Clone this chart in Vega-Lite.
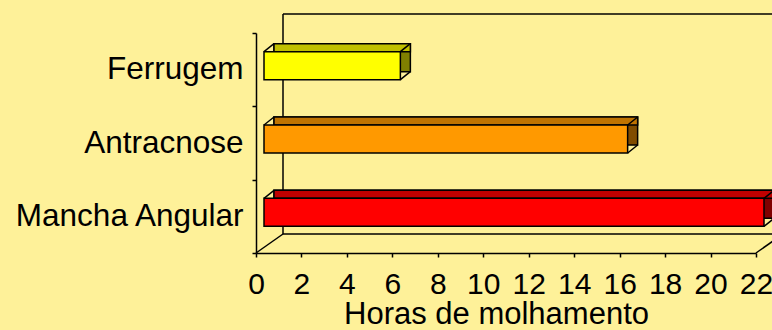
{
  "$schema": "https://vega.github.io/schema/vega-lite/v6.json",
  "autosize": "none",
  "width": 500,
  "height": 220,
  "padding": {"left": 256, "top": 33, "right": 16, "bottom": 77},
  "background": "#FEF199",
  "config": {
    "view": {"stroke": null},
    "font": "Liberation Sans",
    "axis": {"labelFont": "Liberation Sans", "titleFont": "Liberation Sans", "labelColor": "black", "titleColor": "black", "grid": false}
  },
  "data": {
    "values": [
      {"doenca": "Ferrugem", "horas": 6},
      {"doenca": "Antracnose", "horas": 16},
      {"doenca": "Mancha Angular", "horas": 22}
    ]
  },
  "encoding": {
    "y": {
      "field": "doenca", "type": "nominal",
      "sort": ["Ferrugem", "Antracnose", "Mancha Angular"],
      "scale": {"domain": ["Ferrugem", "Antracnose", "Mancha Angular"], "paddingInner": 0, "paddingOuter": 0},
      "axis": {"title": null, "tickBand": "extent", "domainColor": "black", "domainWidth": 1.5, "tickColor": "black", "tickWidth": 1.5, "tickSize": 4, "labelFontSize": 31.5, "labelPadding": 9, "labelLimit": 0}
    }
  },
  "layer": [
    {
      "data": {"values": [{}]},
      "mark": {"type": "rule", "color": "black", "strokeWidth": 1.5, "xOffset": 27, "yOffset": -19, "y2Offset": -19},
      "encoding": {
        "x": {"datum": 0, "type": "quantitative", "scale": {"domain": [0, 22], "nice": false}},
        "y": {"datum": "Ferrugem", "type": "nominal", "bandPosition": 0},
        "y2": {"datum": "Mancha Angular", "bandPosition": 1}
      }
    },
    {
      "data": {"values": [{}]},
      "mark": {"type": "rule", "color": "black", "strokeWidth": 1.5, "xOffset": 27, "x2Offset": 27, "yOffset": -19},
      "encoding": {
        "x": {"datum": 0, "type": "quantitative"},
        "x2": {"datum": 22},
        "y": {"datum": "Ferrugem", "type": "nominal", "bandPosition": 0}
      }
    },
    {
      "data": {"values": [{}]},
      "mark": {"type": "rule", "color": "black", "strokeWidth": 1.5, "xOffset": 27, "x2Offset": 27, "yOffset": -19},
      "encoding": {
        "x": {"datum": 0, "type": "quantitative"},
        "x2": {"datum": 22},
        "y": {"datum": "Mancha Angular", "type": "nominal", "bandPosition": 1}
      }
    },
    {
      "data": {"values": [{"p": 0}, {"p": 22}]},
      "mark": {"type": "rule", "color": "black", "strokeWidth": 1.5, "x2Offset": 27, "y2Offset": -19},
      "encoding": {
        "x": {"field": "p", "type": "quantitative"},
        "x2": {"field": "p"},
        "y": {"datum": "Mancha Angular", "type": "nominal", "bandPosition": 1},
        "y2": {"datum": "Mancha Angular", "bandPosition": 1}
      }
    },
    {
      "mark": {"type": "bar", "height": 28, "xOffset": 18, "x2Offset": 18, "yOffset": -12, "stroke": "black", "strokeWidth": 1.5},
      "encoding": {
        "x": {"field": "horas", "type": "quantitative"},
        "fill": {"field": "doenca", "type": "nominal", "scale": {"domain": ["Ferrugem", "Antracnose", "Mancha Angular"], "range": ["#808000", "#804C00", "#800000"]}, "legend": null}
      }
    },
    {
      "mark": {"type": "bar", "height": 8, "xOffset": 18, "x2Offset": 18, "yOffset": -22, "stroke": "black", "strokeWidth": 1.5},
      "encoding": {
        "x": {"field": "horas", "type": "quantitative"},
        "fill": {"field": "doenca", "type": "nominal", "scale": {"domain": ["Ferrugem", "Antracnose", "Mancha Angular"], "range": ["#C0C000", "#C07300", "#C00000"]}, "legend": null}
      }
    },
    {
      "mark": {"type": "bar", "height": 28, "xOffset": 8, "x2Offset": 8, "yOffset": -4, "stroke": "black", "strokeWidth": 1.5},
      "encoding": {
        "x": {
          "field": "horas", "type": "quantitative",
          "scale": {"domain": [0, 22], "nice": false},
          "axis": {"values": [0, 2, 4, 6, 8, 10, 12, 14, 16, 18, 20, 22], "title": "Horas de molhamento", "titleFontSize": 31, "titleFontWeight": "normal", "titlePadding": 0, "titleX": 240, "domainColor": "black", "domainWidth": 1.5, "tickColor": "black", "tickWidth": 1.5, "tickSize": 4, "labelFontSize": 30, "labelPadding": 12, "labelFlush": false, "labelOverlap": false}
        },
        "fill": {"field": "doenca", "type": "nominal", "scale": {"domain": ["Ferrugem", "Antracnose", "Mancha Angular"], "range": ["#FFFF00", "#FF9900", "#FF0000"]}, "legend": null}
      }
    },
    {
      "mark": {"type": "rule", "color": "black", "strokeWidth": 1.5, "xOffset": 8, "x2Offset": 18, "yOffset": -18, "y2Offset": -26},
      "encoding": {
        "x": {"datum": 0, "type": "quantitative"},
        "x2": {"datum": 0},
        "y2": {"field": "doenca"}
      }
    },
    {
      "mark": {"type": "rule", "color": "black", "strokeWidth": 1.5, "xOffset": 8, "x2Offset": 18, "yOffset": -18, "y2Offset": -26},
      "encoding": {
        "x": {"field": "horas", "type": "quantitative"},
        "x2": {"field": "horas"},
        "y2": {"field": "doenca"}
      }
    },
    {
      "mark": {"type": "rule", "color": "black", "strokeWidth": 1.5, "xOffset": 8, "x2Offset": 18, "yOffset": 10, "y2Offset": 2},
      "encoding": {
        "x": {"field": "horas", "type": "quantitative"},
        "x2": {"field": "horas"},
        "y2": {"field": "doenca"}
      }
    }
  ],
  "resolve": {"scale": {"fill": "independent"}}
}
